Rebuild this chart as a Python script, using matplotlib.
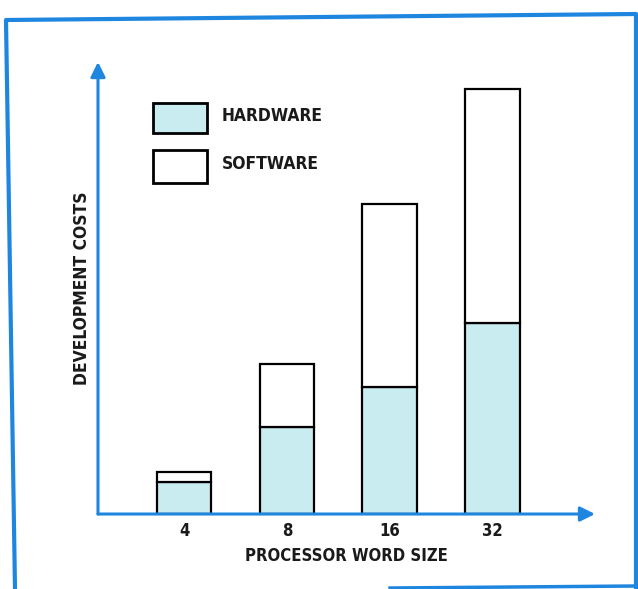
import matplotlib.pyplot as plt
from matplotlib.patches import Rectangle
from matplotlib.lines import Line2D

# data (arbitrary cost units)
word_sizes = ['4', '8', '16', '32']
hardware = [3.2, 8.7, 12.7, 19.1]
software = [1.0, 6.3, 18.3, 23.4]

blue = '#1f86e0'
hw_color = '#c9ecf1'

plt.rcParams['font.family'] = ['DejaVu Sans']
plt.rcParams['font.stretch'] = 'condensed'
plt.rcParams['font.weight'] = 'bold'
txt_color = '#1a1a1a'

fig = plt.figure(figsize=(6.38, 5.89), dpi=100)
ax = fig.add_axes([0.1536, 0.1273, 0.779, 0.7674])

x = range(len(word_sizes))
ax.bar(x, hardware, width=0.53, color=hw_color, edgecolor='black', linewidth=1.6, zorder=2)
ax.bar(x, software, width=0.53, bottom=hardware, color='white', edgecolor='black',
       linewidth=1.6, zorder=2)

ax.set_xlim(-0.84, 4.0)
ax.set_ylim(0, 45.2)

# axes drawn as blue arrows
for s in ax.spines.values():
    s.set_visible(False)
ax.annotate('', xy=(4.0, 0), xytext=(-0.84, 0), xycoords='data',
            arrowprops=dict(arrowstyle='-|>', color=blue, lw=2.2, mutation_scale=22,
                            shrinkA=0, shrinkB=0), zorder=3, annotation_clip=False)
ax.annotate('', xy=(-0.84, 45.2), xytext=(-0.84, 0), xycoords='data',
            arrowprops=dict(arrowstyle='-|>', color=blue, lw=2.2, mutation_scale=22,
                            shrinkA=0, shrinkB=0), zorder=3, annotation_clip=False)

ax.set_xticks(list(x))
ax.set_xticklabels(word_sizes, fontsize=12, color=txt_color)
ax.tick_params(axis='x', length=0, pad=6)
ax.set_yticks([])
ax.set_xlabel('PROCESSOR WORD SIZE', fontsize=12, labelpad=5, color=txt_color,
              fontweight='bold')
ax.set_ylabel('DEVELOPMENT COSTS', fontsize=12.5, labelpad=5, color=txt_color,
              fontweight='bold')

# legend boxes
fig.patches.append(Rectangle((153 / 638, 1 - 133 / 589), 54 / 638, 30 / 589,
                             transform=fig.transFigure, facecolor=hw_color,
                             edgecolor='black', linewidth=2))
fig.patches.append(Rectangle((153 / 638, 1 - 183 / 589), 54 / 638, 33 / 589,
                             transform=fig.transFigure, facecolor='white',
                             edgecolor='black', linewidth=2))
fig.text(222 / 638, 1 - 116 / 589, 'HARDWARE', fontsize=12.5, va='center', color=txt_color)
fig.text(222 / 638, 1 - 164 / 589, 'SOFTWARE', fontsize=12.5, va='center', color=txt_color)

# blue page frame
fig.lines.append(Line2D([15 / 638, 6 / 638, 636 / 638, 636 / 638],
                        [0, 1 - 20 / 589, 1 - 14 / 589, 1 - 587 / 589],
                        transform=fig.transFigure, color=blue, linewidth=3))
fig.lines.append(Line2D([390 / 638, 636 / 638], [1 - 588 / 589, 1 - 586 / 589],
                        transform=fig.transFigure, color=blue, linewidth=2.5))

fig.savefig('out.png', dpi=100)
